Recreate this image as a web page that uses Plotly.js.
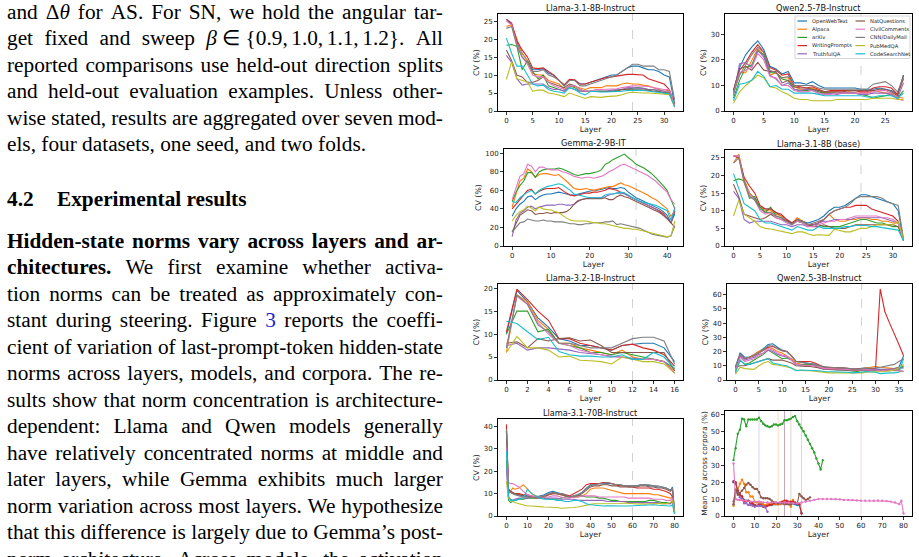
<!DOCTYPE html>
<html>
<head>
<meta charset="utf-8">
<script src="https://cdn.plot.ly/plotly-3.0.1.min.js"></script>
<style>
html,body{margin:0;padding:0;background:#fff;}
#page{position:relative;width:919px;height:557px;overflow:hidden;background:#fff;}
#chart{position:absolute;left:0;top:0;width:919px;height:557px;z-index:1;}
#text{position:absolute;left:0;top:0;width:460px;height:557px;z-index:2;font-family:"Liberation Serif","Times New Roman",serif;font-size:21.3px;color:#000;}
.ln{position:absolute;left:7px;width:436px;height:26.5px;line-height:26.5px;white-space:nowrap;}
.just{display:flex;justify-content:space-between;}
a{color:#2323c8;text-decoration:none;}
</style>
</head>
<body>
<div id="page">
  <div id="chart"></div>
  <div id="text"></div>
</div>
<script>
// ---------------- DATA ----------------
const corpora = ['OpenWebText','Alpaca','arXiv','WritingPrompts','TruthfulQA','NatQuestions','CivilComments','CNN/DailyMail','PubMedQA','CodeSearchNet'];
const models = ['Llama-3.1-8B-Instruct','Qwen2.5-7B-Instruct','Gemma-2-9B-IT','Llama-3.1-8B (base)','Llama-3.2-1B-Instruct','Qwen2.5-3B-Instruct','Llama-3.1-70B-Instruct'];
const refLayers = [24,21,32,24,12,27,60];

const layers17 = [0,1,2,3,4,5,6,7,8,9,10,11,12,13,14,15,16];
const layers29 = [0,1,2,3,4,5,6,7,8,9,10,11,12,13,14,15,16,17,18,19,20,21,22,23,24,25,26,27,28];
const layers33 = [0,1,2,3,4,5,6,7,8,9,10,11,12,13,14,15,16,17,18,19,20,21,22,23,24,25,26,27,28,29,30,31,32];
const layers37 = [0,1,2,3,4,5,6,7,8,9,10,11,12,13,14,15,16,17,18,19,20,21,22,23,24,25,26,27,28,29,30,31,32,33,34,35,36];
const layers43 = [0,1,2,3,4,5,6,7,8,9,10,11,12,13,14,15,16,17,18,19,20,21,22,23,24,25,26,27,28,29,30,31,32,33,34,35,36,37,38,39,40,41,42];
const layers81 = [0,1,2,3,4,6,8,10,12,14,16,18,20,22,24,26,28,30,32,34,36,38,40,42,44,46,48,50,52,54,56,58,60,62,64,66,68,70,72,74,76,78,79,80];

// rows follow `corpora` order
const cvLlama8BInstruct = [
 [25.5,24,19,16,14,11.5,11.5,11.8,10.5,10,8.5,7,8.5,8.5,7.5,7.5,8,8.5,9,9.5,10,10,11,12,12.5,12.5,12,11.5,11.5,11,10,9.5,2],
 [23.5,24,20,16,14,10.5,10,10,8.5,8,7.5,6,7,6.8,6.5,6,6.5,6.5,6.5,7,7,7,7.5,7.8,7.5,7.5,7.2,7,6.5,6,5.5,5.8,1],
 [18.3,18.5,18,11.5,14,11,9,10,7,6.5,6,5.5,7,6.5,5.5,5.5,5.5,5.5,5.5,5.5,5.5,5.8,6,6.2,6.5,6.5,6.3,6,6,5.5,5,5,1.5],
 [25.5,24.5,19.5,17,15,12,11.8,12,11,10,8.5,7.3,8.8,8.7,7.5,7.5,8,8.5,9,9.3,9.5,9.8,10,10.2,10.2,10.2,10,9,8.5,8,7.5,6,2],
 [15.5,13.5,9,7.2,7.5,7.5,7.5,7.5,6.5,6,6,5.5,6.5,6,5.5,5.5,5.5,5.5,5.5,5.5,5.8,6,6,6.5,6.5,6.5,6.3,6,6,5.8,5.5,5.5,1.5],
 [17,14,10,9.5,8,8,8.5,9.5,8,7.5,7,6.5,7.5,7,6,5.5,5.5,5.5,5.5,5.5,5.5,5.5,6,6,6,6,6,5.8,5.5,5.3,5,5,2],
 [25,24,18.5,15,13,10,9.5,9.5,8,7,6.5,6,7,7,6,5.5,5.5,6,6,6,6,6.2,6.5,6.8,7,7,7,6.8,6.5,6.2,6,6,1.5],
 [23,23.5,18,15,13.5,11,11,11.5,10,9.5,8.5,7,8.5,8.5,7,7,7.5,8,8.5,9,9.5,10,11,12,13,13,12.5,12.5,12.5,11.5,11.5,11,3],
 [8.8,13.8,9,8.5,8,5.5,5.8,5.8,5,4.8,4.3,4,5,4.5,4,3.5,4,3.8,3.8,4,4,4.2,4.5,5,5.2,5,5,5,5,4.8,4.7,4.5,1.2],
 [20.3,16,12.5,12.5,10,7.5,7,7.2,6,5.5,5.3,5,6.5,6,5,4.5,5.5,5.3,5.3,5.3,5.3,5.3,5.5,5.7,5.8,5.8,5.7,5.5,5.2,5,5,4.8,1.2]
];
const cvQwen7BInstruct = [
 [8,17,22,25,27.5,24,17.5,16.5,14.5,15.5,11,11,10.5,11.5,10,9,9,9,9,9,9,8.5,8.5,8.5,9,8.5,8,6.5,14],
 [7,15,15,20,24.5,22,14,15,13,13,9.5,8.5,8.5,9,8,7,7.5,7.5,7,7.5,7,7,7,8,7.5,7,7,5.5,5],
 [5,12,17,18,23.5,22,15,15,12.5,12,8.5,8,8,8.5,7.5,7,7,7,7,7,7,6.5,6,5,5.5,6,6.5,5,8],
 [8,16,19,23,26,23,17,16,14,14.5,10,9.5,9,9.5,8.5,7.5,8,8,8,8,8,7.5,7.5,9,9.5,9.5,9,6.5,12.5],
 [6,18.5,19,17,24,21,14,12.5,10,11,8.5,8,8.5,8,7,6.5,7,6.5,7,7,7,6.5,6.5,7,7,7,6.5,5,11],
 [8,16.5,17.5,16,19,16,15.5,15.5,11,12,9.5,9,9,8.5,8,7.5,7.5,7.5,7.5,8,8,8,8,8,8.5,8.5,7.5,6,14],
 [7,15,16,17,22.5,20,13.5,13,10,10,8,7.5,7.5,8,7,6.5,6.5,7,7,7,7,7,7,7.5,8,8,7,5,4],
 [7,14,18,22,25,23,16,15,13,13.5,10,10,10,10,9,8.5,8.5,8.5,8.5,8.5,8.5,8.5,8.5,10.5,11,11.5,10,7.5,13],
 [3,7.5,10,12,14,13,9.5,9,7.5,6.5,5,4.5,4.5,4,4,4,4,4.5,4.5,4.5,4.5,4.5,4.5,5,5,5,5,4.5,4.5],
 [4,10.5,11,12,15.5,13.5,9.5,10,8.5,8.5,7,7,7,7,6.5,6,6,6,6,6,6,6,5.5,5.5,6,6,6,5,7]
];
const cvGemma9BIT = [
 [32,40,45,48,53,54,50,53,55,56,56,57,58,57,56,55,55,56,57,58,59,60,60,61,62,63,62,62,63,62,58,55,52,50,48,46,44,42,40,37,33,25,35],
 [42,55,70,73,83,80,74,77,78,78,77,76,77,74,70,66,62,61,61,62,61,60,61,62,63,64,64,66,68,66,65,63,61,59,57,55,52,50,47,43,40,32,38],
 [48,58,65,70,79,79,74,80,82,83,83,83,84,83,81,79,77,76,77,78,78,79,80,82,88,90,93,95,97,99,95,92,88,86,84,81,78,74,70,65,60,50,40],
 [40,45,50,54,60,61,56,59,61,62,62,62,63,60,57,55,54,55,56,57,57,58,58,59,60,62,61,60,58,57,54,52,50,48,46,44,42,40,38,35,30,25,38],
 [10,28,35,38,42,43,40,42,43,44,44,44,45,45,44,44,45,48,50,51,52,52,52,52,53,55,56,57,57,56,54,52,50,48,46,44,42,40,37,33,30,25,42],
 [15,25,33,36,39,38,34,35,35,36,35,36,36,36,37,40,45,49,50,51,51,51,51,51,52,50,50,53,55,53,52,50,48,46,44,42,40,38,36,33,30,25,20],
 [50,62,75,78,88,86,80,85,85,83,82,82,82,80,79,77,75,74,73,74,74,73,74,75,77,80,82,85,87,88,86,84,82,80,78,76,73,70,66,62,58,50,45],
 [15,20,25,26,29,28,27,27,28,27,27,26,26,26,25,24,24,23,23,24,24,25,25,25,26,26,27,23,24,23,22,21,20,19,17,15,13,12,11,10,9.5,11,22],
 [27,33,37,39,43,41,38,42,40,39,39,37,36,33,30,28,27,27,27,27,26,25,25,24,24,23,22,21,20,19,19,18,18,17,16,15,14,13,12,11,10,11,27],
 [48,47,52,55,58,60,56,60,62,64,65,66,67,66,63,60,56,55,54,53,52,52,52,52,55,56,56,57,58,57,55,52,50,48,47,46,45,44,42,40,38,28,40]
];
const cvLlama8BBase = [
 [25.5,25.5,18.5,15,13.5,11,10.5,10.5,9.5,8.5,7.5,6.5,7.5,7,6.5,7,7.5,8.5,10,11,11,11.5,12.5,13.5,14.5,14.5,14,13.5,13,12.5,12,10,1.5],
 [23.5,26,19,15,13,11,10,10,9,8.5,7,6.5,8,7,6,6,6.5,7.5,9,7.5,7,7,7.5,7.5,8,8,7.5,7.5,7,7,6.5,6.5,1.5],
 [18.5,19,18.5,13.5,14,11,9.5,11,8.5,8,7,6.5,7,6.5,5.5,6,6,5.5,5.5,5.5,5.5,6,6.5,7,7.5,7.5,7,6.5,6.5,6,5.5,5.5,1.5],
 [25.5,25,19.5,17,15,11.5,10.5,10.5,9.5,9,7.5,6.5,7.5,7,6,6,6.5,7.5,9,10,10.5,11,11,11.5,11.5,11.5,10.5,10,9.5,9,8.5,7,2],
 [15.5,13.5,7.5,6.5,7,7,7,7,6.5,6,6,5.5,6,6,5.5,6,6.5,7,7,7.5,7.5,7.5,7.5,8,8,8,8,8,8,7.5,7,6.5,1.5],
 [17.5,14,9,8.5,8,7.5,8,9,8,7.5,7,6.5,7,7,6,5.5,5.5,6,5.5,5,5,5,5.5,6,6,6,6,6,6,6,6,5.5,2],
 [25.5,25.5,18,14.5,13,10,9,9.5,8,7.5,6.5,6,7,6.5,5.5,5.5,6,6.5,7,7,7.5,7.5,8,8.5,8.5,8.5,8.5,8.5,8,8,7.5,6.5,1.5],
 [23.5,25,18,14,13,10.5,9.5,9.5,8.5,8,7,6,7.5,7,6,6.5,7,7.5,9,10,10.5,11,12,13.5,14,14,14,14,13.5,12.5,12,11.5,2],
 [8.5,13,9,8,7,5.5,5,4.8,4.5,4.3,4,3.5,4,4,3.5,3,3.2,3,3,4.8,4.5,4,4,4.5,5,5,5.5,6,6,6,6,7,2],
 [20.5,16,12,11,10,7.5,6.5,6.5,6,5.5,5,4.5,5.5,5,4.5,4.5,5.5,5,5,5,5,5.5,5.5,5.8,5.8,5.8,5.5,5.5,5.2,5,4.8,4.5,1.5]
];
const cvLlama1BInstruct = [
 [10,19.5,17,13.5,11.5,9,8.5,7.5,7.5,7,6.5,7.5,7.8,8,8,7,4],
 [6,18.5,17,13,11,8,8,7,6.5,6,5.5,6.5,5,4.5,4.5,4,2],
 [10,15,15,10.5,11,8,7.5,7,6,6,5.5,6,5.5,5,4.5,4,2.5],
 [10.5,19.8,17.5,15,13,9,9,8,7.5,7,6.5,7.5,7.8,7,6.5,5.5,3],
 [7.5,8,6.5,7,7,6.8,6.5,6,5.8,5.5,5.2,5,4.8,4.5,4.5,4,1.5],
 [8,8.3,7,9,8.5,9,9.2,8.5,8.7,7.5,6,6,6,6,6,6,2],
 [7,18.2,16.5,12.5,10,8,7.5,6.5,6,5.5,5,5,4.5,4.5,4.5,4,1.5],
 [7,18.5,16.5,12,10.5,8,8,7.5,7,7,7,8,9,9.3,9.3,8.5,3.5],
 [6,9.5,7,7,6.5,5,5.2,4.3,4.2,4,3.5,5,4.5,4,4,3.5,1.5],
 [12.8,12.3,10.5,8.8,9.3,6.2,5.5,5.2,5.2,5,5,5.5,4.5,4.5,6,5,2.5]
];
const cvQwen3BInstruct = [
 [9,19,16,16,18,20,22,25,25.5,23,21,20,17,13,12.5,12.5,12,11,10,9,8.5,8.5,8.5,8,8,7.5,8,8.5,8.5,8,7.5,7.5,7.5,7.5,8,9,17],
 [8,17,15,16,18,20,21,23,22,20,19,17,15,12,11,11,11,10,9,8,8,8,8,7.5,7.5,7,7.5,8,8.5,9,9.5,9,8.5,8,8,8.5,9],
 [6,14,11,12,14,16,18,21,19,17,15,15.5,14,11,10.5,11,11,10,8.5,7.5,7.5,7,7,7,6.5,6,6,6.5,6.5,6.5,6.5,6,6,6.5,7,7.5,10],
 [9,18,15,16,17,19,21,23,23.5,22,20.5,20,17,13,13,13.5,13,12,10.5,9,9,8.5,8.5,8.5,8,7.5,7.5,8,8,8,8,64,48,40,33,25,17],
 [8,17,14,15,16,18,19,21,20,18,17,16,14,11,10.5,10.5,10.5,10,8.5,7.5,7.5,7.5,7.5,7,7,6.5,7,7,7,7,7,7.5,7.5,7.5,8,8,8.5],
 [9,10,10,11,12,13,14,15,14,14,14,13,12,10,9.5,9.5,9.5,9,8,7.5,7.5,7.5,7,7,7,6.5,6.5,7,7,7,7,6.5,6.5,6.5,6.5,6.5,6],
 [7,16,13,14,15,17,19,22,21,19,17.5,17,14,11,10.5,10.5,10.5,10,9,8,8,8,8,7.5,7.5,7,7,7.5,7.5,7.5,7,6.5,7,7,7,7,6],
 [9,18,15,16,17,19,21,24,24,22,20.5,20,17,13,12.5,12.5,12,11,10,9,9,8.5,8.5,8.5,8,7.5,7.5,8,8,8.5,8.5,9,9.5,10,11,13,15],
 [4,9,8,8,7.5,10,12,13,11,10.5,10,9,8.5,7,6.5,6.5,6.5,6,5.5,5,5,5,5,5,5,4.5,5,5,5.5,5.5,5.5,5.5,6,6.5,7,8.5,11],
 [5,14,11,11,12,13,14,15,12,11,10.5,10,8,6.5,7,7,7,7,6.5,6,6,6,6,6,5.5,5,5,5.5,6,6,5.5,4.5,5,5,5,5.5,15]
];
const cvLlama70BInstruct = [
 [40,12,11,10.5,10,9.5,9,9,8.5,8.5,9,9.5,10.5,11,10.5,10,9.5,8.5,9,9.5,10.5,12.5,14,14,14.5,14.5,14.5,14.5,14,14,13.5,13.5,13.5,13.5,14,14,13.5,13.5,13,13,12.5,11.5,13,1.5],
 [38,10,11,12.5,12,12.5,14,12,10,9,8.5,8.5,9.5,10,10,9.5,9,8.5,8.5,8.5,9,10,12,12.5,12.5,12.5,12,11.5,11,10.5,10,10,10,10,10,10,10,9.5,9.5,9,8.5,8,8.5,1.5],
 [25,7,6,6.5,7,7.5,7.5,8,8,8,8.5,8,7.5,7.5,7.5,8,8.5,8.5,8.5,9,9,8.5,8.5,8.5,8,8,7.5,7,7,6.5,6.5,6.5,6.5,6.5,6.5,6.5,7,7,6.5,6,6,5.5,6.5,1.5],
 [41,12,11,10.5,10,10,9.5,9.5,9,8.5,8.5,9,9.5,10.5,10,10,9.5,9,10,11,12,14,14.5,14.5,14.5,15,15,14.5,14,13.5,13.5,13,13,12.5,12.5,12.5,12.5,12,12,11.5,11,10,8.5,1],
 [21,8,7.5,7,7.5,8,8,8,8.5,8.5,8.5,8,8,8,8,7.5,7.5,7.5,7.5,7,7,7,7,7,7,7,6.5,6.5,6.5,6.5,6.5,6,6,6,6,6,6,6,6,5.5,5.5,5.5,7,1.5],
 [38,11,10.5,10,10,9.5,9,8.5,8.5,8,8,8.5,9.5,10,10,9.5,9,8.5,8.5,9,10,11.5,13,13.5,13.5,14,14,13.5,13.5,13,13,13,13,13,13.5,13.5,13,13,12.5,12.5,12,11,12,1.5],
 [31,15,14.5,14.5,14,13,11,9.5,9,8.5,8.5,8.5,8.5,9,9,8.5,8,8,8.5,8.5,9,9,9,9,8.5,8.5,8.5,8.5,8.5,8.5,8.5,8,8,8,8,8,8,7.5,7.5,7.5,7,7,8,1.5],
 [39,11,10.5,10,9.5,9,8.5,8.5,8.5,8,8.5,9,10,10.5,10,10,9.5,8.5,9,9.5,10.5,12,13.5,14,14.5,14.5,15,14.5,14,14,13.5,13.5,13.5,13.5,14,14,14,13.5,13.5,13,12.5,11.5,12.5,1.5],
 [15.5,8,7,6.5,6,5.5,5,4.5,4.5,4.5,4.2,4,4,3.8,3.8,3.5,3.5,3.5,3.8,4,4.5,5,5.2,5.5,5.5,5.6,5.5,5.4,5.5,5.6,5.8,5.6,5.5,5.4,5.5,5.3,5.5,5.6,5.8,5.6,5.5,6,7,1.5],
 [29,9,7,7,7,7.5,8,12,10,9,8,7.5,7.5,7.5,7,7,6.5,6.5,7,7,6.5,5.5,5,4.8,4.5,4.5,4.6,4.5,4.5,4.4,4.5,4.5,4.6,4.5,4.8,5,5,5,4.8,4.8,4.5,4.5,5,1]
];

// mean CV across corpora per model
const meanLlama8BInstruct = [20,19,15,12.5,11.5,9.5,9,9,7.5,7,6.5,6,7,7,6,6,6.5,6.5,6.5,7,7,7,7.5,8,8,8,8,7.5,7.5,7,6.5,6.5,1.8];
const meanQwen7BInstruct = [6,14,16,19,21.5,19,14,14,11.5,11.5,8.5,8,8,8,7,6.5,7,7,7,7,7,7,7,7.5,7.5,7.5,7,5.5,9.5];
const meanGemma9BIT = [33,40,48.5,51,57.5,57,53,57,57,57,57,57,58,56,54.5,53.5,53,52.5,53,54,54,53.5,54,54.5,56.5,56.5,57,57.5,58.5,59,56,54,52,50,47.5,45,42.5,40,37.5,34,31,27.5,33];
const meanLlama8BBase = [20.5,20,15,12.5,11.5,9,8.5,9,8,7.5,6.5,6,6.5,6.5,5.5,5.5,6,6.5,7,7.5,7.5,7.5,8,8.5,9,9,8.5,8.5,8.5,8,7.5,7,1.5];
const meanLlama1BInstruct = [8.5,15.5,13.5,11,10,7.5,7.5,6.5,6.5,6,5.5,6,6,6,6,5,2.5];
const meanQwen3BInstruct = [7,15.5,12.5,13.5,15,16.5,18.5,19.5,18.5,17,16,16,14,11,10.5,10.5,10.5,10,9,8,8,7.5,7.5,7.5,7,7,7,7,7.5,7.5,7.5,13,11.5,10.5,9.5,10,11];
const meanLlama70BInstruct = [31,10,9.5,9.5,9.5,9,8.5,8.5,8.5,8,8,8,8,8,8,7.8,7.5,7.5,8,8.5,9,9.5,10,10,10,10,10,9.8,9.5,9.5,9.5,9.2,9,9,9,9,9.2,9,8.8,8.5,8,7,9,1.5];

// ---------------- STYLE / LAYOUT ----------------
const palette = ['#1f77b4','#ff7f0e','#2ca02c','#d62728','#9467bd','#8c564b','#e377c2','#7f7f7f','#bcbd22','#17becf'];
const W = 919, H = 557;
const FONT = 'DejaVu Sans, Verdana, sans-serif';

const panels = [
 {title: models[0], layers: layers33, data: cvLlama8BInstruct, box:[498,683,14,111], xr:[-1.6,33.6], yr:[0,27],    xdt:5,  ydt:5},
 {title: models[1], layers: layers29, data: cvQwen7BInstruct,  box:[725,912,14,111], xr:[-1.4,29.4], yr:[0,38],    xdt:5,  ydt:10},
 {title: models[2], layers: layers43, data: cvGemma9BIT,       box:[504,683,149,246], xr:[-2.1,44.1], yr:[0,104.5], xdt:10, ydt:20},
 {title: models[3], layers: layers33, data: cvLlama8BBase,     box:[725,912,150,246], xr:[-1.6,33.6], yr:[0,27.2],  xdt:5,  ydt:5},
 {title: models[4], layers: layers17, data: cvLlama1BInstruct, box:[498,683,284,380], xr:[-0.8,16.8], yr:[0,20.9],  xdt:2,  ydt:5},
 {title: models[5], layers: layers37, data: cvQwen3BInstruct,  box:[727,912,284,380], xr:[-1.8,37.8], yr:[0,67.5],  xdt:5,  ydt:10},
 {title: models[6], layers: layers81, data: cvLlama70BInstruct,box:[498,683,419,516], xr:[-4,84],     yr:[0,43.4],  xdt:10, ydt:10},
 {title: '',        box:[725,912,411,516], xr:[-4,84], yr:[0,62], xdt:10, ydt:10, ytitle:'Mean CV across corpora (%)'}
];
const meanSeries = [
 {layers: layers33, y: meanLlama8BInstruct},
 {layers: layers29, y: meanQwen7BInstruct},
 {layers: layers43, y: meanGemma9BIT},
 {layers: layers33, y: meanLlama8BBase},
 {layers: layers17, y: meanLlama1BInstruct},
 {layers: layers37, y: meanQwen3BInstruct},
 {layers: layers81, y: meanLlama70BInstruct}
];

const traces = [];
const layout = {
  width: W, height: H,
  margin: {l:0, r:0, t:0, b:0},
  paper_bgcolor: 'rgba(0,0,0,0)',
  plot_bgcolor: '#fff',
  showlegend: false,
  font: {family: FONT, color: '#222'},
  shapes: [], annotations: []
};

panels.forEach((p, i) => {
  const n = i + 1;
  const xa = n === 1 ? 'x' : 'x' + n;
  const ya = n === 1 ? 'y' : 'y' + n;
  const axCommon = {
    showline: true, mirror: true, linecolor: '#000', linewidth: 1,
    ticks: 'outside', ticklen: 3, tickwidth: 0.8, tickcolor: '#000',
    showgrid: false, zeroline: false, tick0: 0,
    tickfont: {family: FONT, size: 7, color: '#222'},
    fixedrange: true, automargin: false
  };
  layout['xaxis' + (n === 1 ? '' : n)] = Object.assign({}, axCommon, {
    domain: [p.box[0] / W, p.box[1] / W], anchor: ya, range: p.xr, dtick: p.xdt,
    title: {text: 'Layer', font: {family: FONT, size: 7.8, color: '#222'}, standoff: 1}
  });
  layout['yaxis' + (n === 1 ? '' : n)] = Object.assign({}, axCommon, {
    domain: [1 - p.box[3] / H, 1 - p.box[2] / H], anchor: xa, range: p.yr, dtick: p.ydt,
    title: {text: p.ytitle || 'CV (%)', font: {family: FONT, size: p.ytitle ? 7.4 : 7.8, color: '#222'}, standoff: 2}
  });
  if (p.title) {
    layout.annotations.push({
      text: p.title, xref: xa + ' domain', yref: ya + ' domain', x: 0.5, y: 1,
      xanchor: 'center', yanchor: 'bottom', yshift: -1, showarrow: false,
      font: {family: FONT, size: 8.2, color: '#111'}
    });
  }
  if (i < 7) {
    layout.shapes.push({
      type: 'line', xref: xa, yref: ya + ' domain', x0: refLayers[i], x1: refLayers[i], y0: 0, y1: 1,
      line: {color: 'rgba(150,150,150,0.55)', width: 0.8, dash: 'dash'}, layer: 'below'
    });
    p.data.forEach((vals, c) => {
      traces.push({
        type: 'scatter', mode: 'lines', x: p.layers, y: vals, name: corpora[c],
        xaxis: xa, yaxis: ya, line: {color: palette[c], width: 1.1}, hoverinfo: 'skip'
      });
    });
  } else {
    refLayers.forEach((L, m) => {
      layout.shapes.push({
        type: 'line', xref: xa, yref: ya + ' domain', x0: L, x1: L, y0: 0, y1: 1,
        line: {color: palette[m], width: 0.9}, opacity: 0.3, layer: 'below'
      });
    });
    meanSeries.forEach((s, m) => {
      traces.push({
        type: 'scatter', mode: 'lines+markers', x: s.layers, y: s.y, name: models[m],
        xaxis: xa, yaxis: ya, line: {color: palette[m], width: 1.1},
        marker: {color: palette[m], size: 2.4}, hoverinfo: 'skip'
      });
    });
  }
});

// manual legend inside the Qwen2.5-7B panel (matplotlib style, two columns)
(function () {
  const bx0 = 795, bx1 = 910, by0 = 16, by1 = 58.5;
  layout.shapes.push({type: 'rect', xref: 'paper', yref: 'paper',
    x0: bx0 / W, x1: bx1 / W, y0: 1 - by1 / H, y1: 1 - by0 / H,
    fillcolor: 'rgba(255,255,255,0.85)', line: {color: '#cccccc', width: 0.8}, layer: 'above'});
  const colX = [797.5, 855.5];
  const rowY = [21, 29.2, 37.4, 45.6, 53.8];
  corpora.forEach((name, c) => {
    const col = Math.floor(c / 5), row = c % 5;
    const x0 = colX[col], y = rowY[row];
    layout.shapes.push({type: 'line', xref: 'paper', yref: 'paper',
      x0: x0 / W, x1: (x0 + 9.5) / W, y0: 1 - y / H, y1: 1 - y / H,
      line: {color: palette[c], width: 1.2}, layer: 'above'});
    layout.annotations.push({text: name, xref: 'paper', yref: 'paper',
      x: (x0 + 12) / W, y: 1 - y / H, xanchor: 'left', yanchor: 'middle',
      showarrow: false, font: {family: FONT, size: 5.2, color: '#222'}});
  });
})();

Plotly.newPlot('chart', traces, layout, {staticPlot: true, displayModeBar: false});

// ---------------- LEFT TEXT COLUMN ----------------
const para1 = [
 'and Δ<i>θ</i> for AS. For SN, we hold the angular tar-',
 'get fixed and sweep <i>β</i>\u2005∈\u2005{0.9,\u20061.0,\u20061.1,\u20061.2}. All',
 'reported comparisons use held-out direction splits',
 'and held-out evaluation examples. Unless other-',
 'wise stated, results are aggregated over seven mod-',
 'els, four datasets, one seed, and two folds.'
];
const para2 = [
 '<b>Hidden-state</b> <b>norms</b> <b>vary</b> <b>across</b> <b>layers</b> <b>and</b> <b>ar-</b>',
 '<b>chitectures.</b> We first examine whether activa-',
 'tion norms can be treated as approximately con-',
 'stant during steering. Figure <a>3</a> reports the coeffi-',
 'cient of variation of last-prompt-token hidden-state',
 'norms across layers, models, and corpora. The re-',
 'sults show that norm concentration is architecture-',
 'dependent: Llama and Qwen models generally',
 'have relatively concentrated norms at middle and',
 'later layers, while Gemma exhibits much larger',
 'norm variation across most layers. We hypothesize',
 'that this difference is largely due to Gemma’s post-',
 'norm architecture. Across models, the activation'
];
const textEl = document.getElementById('text');
function addLine(html, baseline, justify) {
  const d = document.createElement('div');
  d.className = 'ln' + (justify ? ' just' : '');
  d.style.top = (baseline - 20.4) + 'px';
  if (justify) {
    html.split(' ').forEach(w => {
      const s = document.createElement('span');
      s.innerHTML = w;
      d.appendChild(s);
    });
  } else {
    d.innerHTML = html;
  }
  textEl.appendChild(d);
}
const LS = 26.5;
para1.forEach((t, k) => addLine(t, 19 + k * LS, k < para1.length - 1));
// section heading
(function () {
  const hb = 206;
  const h1 = document.createElement('div');
  h1.className = 'ln'; h1.style.top = (hb - 20.4) + 'px';
  h1.innerHTML = '<b>4.2</b>';
  textEl.appendChild(h1);
  const h2 = document.createElement('div');
  h2.className = 'ln'; h2.style.left = '57px'; h2.style.width = '380px';
  h2.style.top = (hb - 20.4) + 'px';
  h2.innerHTML = '<b>Experimental results</b>';
  textEl.appendChild(h2);
})();
para2.forEach((t, k) => addLine(t, 248 + k * LS, true));
</script>
</body>
</html>
